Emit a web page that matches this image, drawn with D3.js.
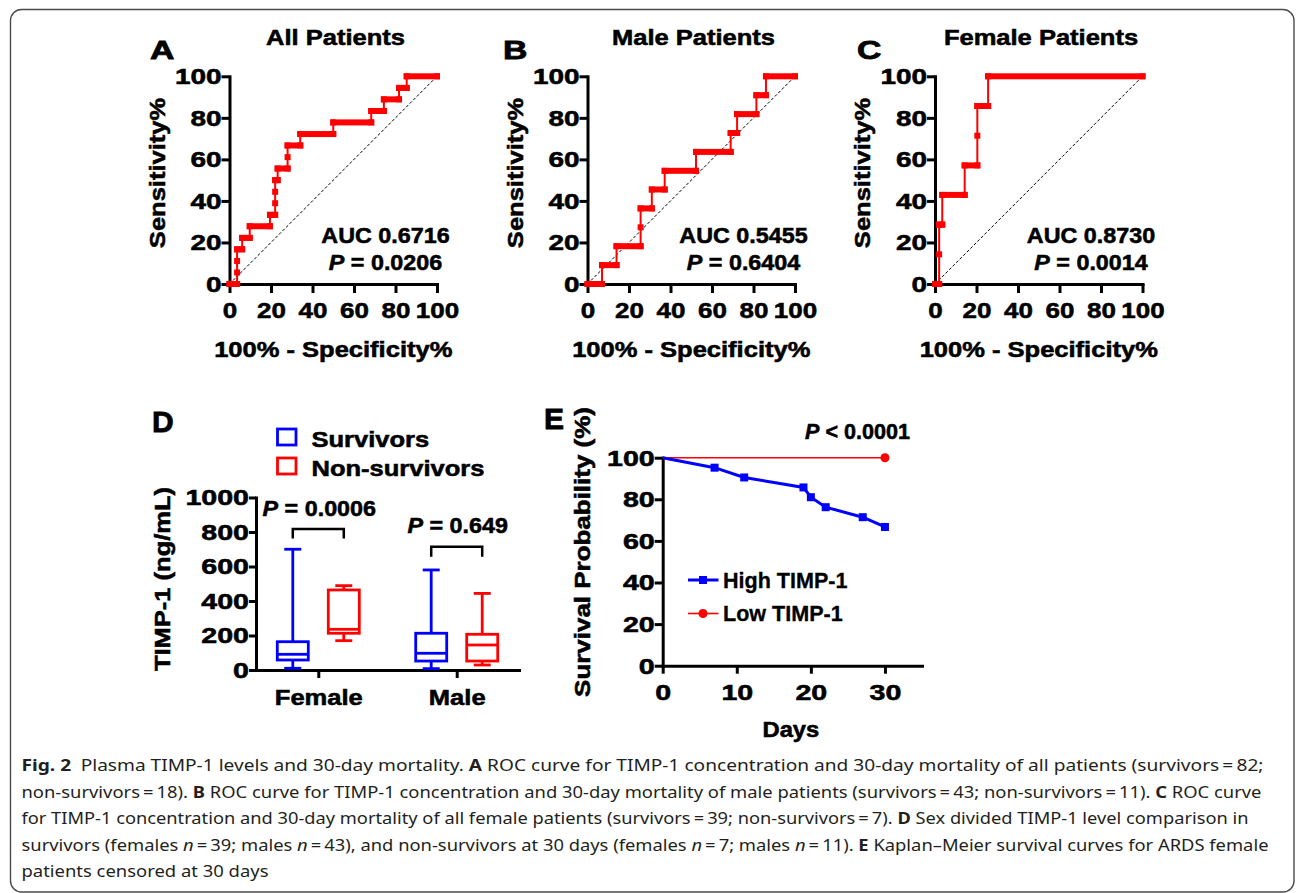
<!DOCTYPE html>
<html><head><meta charset="utf-8">
<script src="https://cdn.jsdelivr.net/npm/d3@7"></script>
<style>html,body{margin:0;padding:0;background:#fff;}svg{display:block;}</style>
</head><body>
<svg id="fig" width="1296" height="893"></svg>
<script>
// ================= DATA =================
const rocTitles = ["All Patients", "Male Patients", "Female Patients"];
const rocLetters = ["A", "B", "C"];
const rocAUC = ["0.6716", "0.5455", "0.8730"];
const rocP = ["0.0206", "0.6404", "0.0014"];
const rocTicks = [0, 20, 40, 60, 80, 100];
// points: [100% - Specificity%, Sensitivity%]
const rocAll = [[0,0],[3.66,0],[3.66,5.56],[3.66,11.1],[3.66,16.7],[6.1,16.7],[6.1,22.2],[9.76,22.2],[9.76,27.8],[19.5,27.8],[19.5,33.3],[22,33.3],[22,38.9],[22,44.4],[22,50],[23.2,50],[23.2,55.6],[28,55.6],[28,61.1],[28,66.7],[34.1,66.7],[34.1,72.2],[50,72.2],[50,77.8],[68.3,77.8],[68.3,83.3],[74.4,83.3],[74.4,88.9],[81.7,88.9],[81.7,94.4],[85.4,94.4],[85.4,100],[100,100]];
const rocMale = [[0,0],[7,0],[7,9.09],[14,9.09],[14,18.2],[25.6,18.2],[25.6,27.3],[25.6,36.4],[31,36.4],[31,45.5],[37.2,45.5],[37.2,54.5],[52.3,54.5],[52.3,63.6],[69,63.6],[69,72.7],[72.1,72.7],[72.1,81.8],[81.4,81.8],[81.4,90.9],[86,90.9],[86,100],[100,100]];
const rocFemale = [[0,0],[2,0],[2,14.3],[2,28.6],[3.5,28.6],[3.5,42.9],[14.3,42.9],[14.3,57.1],[20.4,57.1],[20.4,71.4],[20.4,85.7],[25.6,85.7],[25.6,100],[100,100]];

const boxGroups = ["Female", "Male"];
const boxSeries = ["Survivors", "Non-survivors"];
// [min, Q1, median, Q3, max] in ng/mL
const survivorsBox = [[10,58,91,164,700],[8,52,97,213,580]];
const nonSurvivorsBox = [[170,213,236,464,489],[29,52,145,207,444]];
const boxP = ["0.0006", "0.649"];
const boxTicks = [0, 200, 400, 600, 800, 1000];

const kmSeries = ["High TIMP-1", "Low TIMP-1"];
const highDays = [0, 7, 11, 19, 20, 22, 27, 30];
const highSurv = [100, 95.2, 90.5, 85.7, 81.0, 76.2, 71.4, 66.7];
const lowDays = [0, 30];
const lowSurv = [100, 100];
const kmP = "< 0.0001";
const kmTicksX = [0, 10, 20, 30];
const kmTicksY = [0, 20, 40, 60, 80, 100];

// caption: [text, style] (b = bold, i = italic)
const captionLines = [
  [["Fig. 2","b"],["\u2002Plasma TIMP-1 levels and 30-day mortality. "],["A","b"],[" ROC curve for TIMP-1 concentration and 30-day mortality of all patients (survivors\u2009=\u200982;"]],
  [["non-survivors\u2009=\u200918). "],["B","b"],[" ROC curve for TIMP-1 concentration and 30-day mortality of male patients (survivors\u2009=\u200943; non-survivors\u2009=\u200911). "],["C","b"],[" ROC curve"]],
  [["for TIMP-1 concentration and 30-day mortality of all female patients (survivors\u2009=\u200939; non-survivors\u2009=\u20097). "],["D","b"],[" Sex divided TIMP-1 level comparison in"]],
  [["survivors (females "],["n","i"],["\u2009=\u200939; males "],["n","i"],["\u2009=\u200943), and non-survivors at 30 days (females "],["n","i"],["\u2009=\u20097; males "],["n","i"],["\u2009=\u200911). "],["E","b"],[" Kaplan\u2013Meier survival curves for ARDS female"]],
  [["patients censored at 30 days"]]
];

// ================= DRAWING =================
const FONT = "'Liberation Sans', Arial, Helvetica, sans-serif";
const RED = "#ff0000", BLUE = "#0000ff";
const THICK = 0.55; // extra stroke to mimic the heavy bold of the original
const svg = d3.select("#fig");

svg.append("rect").attr("x", 10.5).attr("y", 9.5).attr("width", 1283.5).attr("height", 882.5)
  .attr("rx", 11).attr("fill", "none").attr("stroke", "#4a4a4a").attr("stroke-width", 1.4);

function label(g, x, y, parts, o = {}) {
  const size = o.size || 22, sx = o.sx || 1.16, rot = o.rot || 0;
  const t = g.append("text")
    .attr("transform", `translate(${x},${y}) rotate(${rot}) scale(${sx},1)`)
    .attr("text-anchor", o.anchor || "middle")
    .attr("font-family", FONT).attr("font-size", size)
    .attr("font-weight", o.weight || "bold").attr("fill", "#000")
    .attr("stroke", "#000").attr("stroke-width", o.thick === undefined ? THICK : o.thick);
  (typeof parts === "string" ? [[parts]] : parts).forEach(p => {
    const s = t.append("tspan").text(p[0]);
    if (p[1]) s.attr("font-style", "italic");
  });
  return t;
}

function styleAxis(g) {
  g.select(".domain").attr("stroke", "#000").attr("stroke-width", 3).attr("stroke-linecap", "square");
  g.selectAll(".tick line").attr("stroke", "#000").attr("stroke-width", 3);
  g.selectAll(".tick text").attr("font-family", FONT).attr("font-size", 22)
    .attr("font-weight", "bold").attr("fill", "#000").attr("stroke", "#000").attr("stroke-width", THICK);
}
function drawLeft(g, xPos, scale, ticks, tsize, sx) {
  const a = g.append("g").attr("transform", `translate(${xPos},0)`)
    .call(d3.axisLeft(scale).tickValues(ticks).tickSize(tsize).tickSizeOuter(0).tickPadding(0).tickFormat(d3.format("d")));
  styleAxis(a);
  a.selectAll(".tick text").attr("x", -tsize / sx).attr("dy", "0.34em").attr("transform", `scale(${sx},1)`);
  return a;
}
function drawBottom(g, yPos, scale, ticks, tsize, sx, base, fmt) {
  const ax = d3.axisBottom(scale).tickValues(ticks).tickSize(tsize).tickSizeOuter(0);
  if (fmt) ax.tickFormat(fmt);
  const a = g.append("g").attr("transform", `translate(0,${yPos})`).call(ax);
  styleAxis(a);
  a.selectAll(".tick text").attr("y", base).attr("dy", 0).attr("transform", `scale(${sx},1)`);
  return a;
}

// ---------- ROC panels ----------
const rocData = [rocAll, rocMale, rocFemale];
const rocX0 = [229.5, 587.5, 935];
const rocLetterX = [150, 503, 857];
rocData.forEach((data, i) => {
  const g = svg.append("g");
  const x = d3.scaleLinear().domain([0, 100]).range([rocX0[i], rocX0[i] + 207.5]);
  const y = d3.scaleLinear().domain([0, 100]).range([284, 76.3]);
  drawLeft(g, x(0), y, rocTicks, 8, 1.27);
  drawBottom(g, y(0), x, rocTicks, 9, 1.18, 34, d3.format("d"));
  g.append("line").attr("x1", x(0)).attr("y1", y(0)).attr("x2", x(100)).attr("y2", y(100))
    .attr("stroke", "#000").attr("stroke-width", 1).attr("stroke-dasharray", "3,2");
  g.append("path").datum(data).attr("fill", "none").attr("stroke", RED).attr("stroke-width", 2)
    .attr("d", d3.line().x(d => x(d[0])).y(d => y(d[1])));
  const runs = d3.pairs(data).filter(([a, b]) => a[1] === b[1]);
  g.selectAll(null).data(runs).join("rect")
    .attr("x", ([a]) => x(a[0]) - 3).attr("y", ([a]) => y(a[1]) - 3)
    .attr("width", ([a, b]) => x(b[0]) - x(a[0]) + 6).attr("height", 6).attr("fill", RED);
  g.selectAll(null).data(data).join("rect")
    .attr("x", d => x(d[0]) - 3).attr("y", d => y(d[1]) - 3).attr("width", 6).attr("height", 6).attr("fill", RED);
  label(g, rocLetterX[i], 59, rocLetters[i], { size: 26, sx: 1.3, anchor: "start", thick: 0.8 });
  label(g, x(0) + 106, 45, rocTitles[i]);
  label(g, x(0) - 65, 173, "Sensitivity%", { rot: -90 });
  label(g, x(50), 357, "100% - Specificity%");
  label(g, x(0) + 156, 243, "AUC " + rocAUC[i], { sx: 1.06 });
  label(g, x(0) + 156, 270, [["P", true], [" = " + rocP[i]]], { sx: 1.06 });
});

// ---------- Box plot (D) ----------
{
  const g = svg.append("g");
  const xb = d3.scalePoint().domain(boxGroups).range([256, 519]).padding(0.45);
  const yb = d3.scaleLinear().domain([0, 1000]).range([670, 497.5]);
  drawLeft(g, 256, yb, boxTicks, 7, 1.3);
  drawBottom(g, 670, xb, boxGroups, 8, 1.16, 35);
  label(g, 152, 432, "D", { size: 30, sx: 1.0, anchor: "start", thick: 0.8 });
  label(g, 170, 579, "TIMP-1 (ng/mL)", { rot: -90 });
  const off = 25.5, bw = 31, cw = 17;
  [survivorsBox, nonSurvivorsBox].forEach((arr, si) => {
    const col = si ? RED : BLUE;
    arr.forEach((s, gi) => {
      const cx = xb(boxGroups[gi]) + (si ? off : -off);
      const bg = g.append("g").attr("stroke", col).attr("stroke-width", 2.8).attr("fill", "none");
      bg.append("line").attr("x1", cx).attr("x2", cx).attr("y1", yb(s[0])).attr("y2", yb(s[1]));
      bg.append("line").attr("x1", cx).attr("x2", cx).attr("y1", yb(s[3])).attr("y2", yb(s[4]));
      bg.append("line").attr("x1", cx - cw / 2).attr("x2", cx + cw / 2).attr("y1", yb(s[0])).attr("y2", yb(s[0]));
      bg.append("line").attr("x1", cx - cw / 2).attr("x2", cx + cw / 2).attr("y1", yb(s[4])).attr("y2", yb(s[4]));
      bg.append("rect").attr("x", cx - bw / 2).attr("width", bw).attr("y", yb(s[3])).attr("height", yb(s[1]) - yb(s[3]));
      bg.append("line").attr("x1", cx - bw / 2).attr("x2", cx + bw / 2).attr("y1", yb(s[2])).attr("y2", yb(s[2]));
    });
  });
  const brTop = [817, 715], brBot = [763, 657], pY = [894, 792];
  boxGroups.forEach((grp, gi) => {
    const c = xb(grp);
    g.append("path").attr("d", `M${c - off},${yb(brBot[gi])}V${yb(brTop[gi])}H${c + off}V${yb(brBot[gi])}`)
      .attr("fill", "none").attr("stroke", "#000").attr("stroke-width", 2.5);
    label(g, c + 1, yb(pY[gi]), [["P", true], [" = " + boxP[gi]]], { sx: 1.06 });
  });
  // legend
  boxSeries.forEach((s, si) => {
    const ly = 437 + si * 29;
    g.append("rect").attr("x", 277.5).attr("y", ly - 8).attr("width", 18.5).attr("height", 16)
      .attr("fill", "none").attr("stroke", si ? RED : BLUE).attr("stroke-width", 2.8);
    label(g, 311.5, ly + 9.5, s, { anchor: "start" });
  });
}

// ---------- Kaplan-Meier (E) ----------
{
  const g = svg.append("g");
  const xk = d3.scaleLinear().domain([0, 35]).range([662.7, 922]);
  const yk = d3.scaleLinear().domain([0, 100]).range([665.7, 457.7]);
  drawLeft(g, 662.7, yk, kmTicksY, 8, 1.3);
  drawBottom(g, 665.7, xk, kmTicksX, 8, 1.3, 34.3, d3.format("d"));
  label(g, 544, 429, "E", { size: 30, sx: 1.0, anchor: "start", thick: 0.8 });
  label(g, 590, 552, "Survival Probability (%)", { rot: -90, sx: 1.18 });
  label(g, xk(17.3), 737, "Days", { sx: 1.08 });
  label(g, 857.5, 438.5, [["P", true], [" " + kmP]], { sx: 0.98 });
  const high = highDays.map((d, k) => [d, highSurv[k]]);
  const low = lowDays.map((d, k) => [d, lowSurv[k]]);
  const line = d3.line().x(d => xk(d[0])).y(d => yk(d[1]));
  g.append("path").datum(low).attr("d", line).attr("fill", "none").attr("stroke", RED).attr("stroke-width", 1.6);
  g.append("path").datum(high).attr("d", line).attr("fill", "none").attr("stroke", BLUE).attr("stroke-width", 3);
  g.selectAll(null).data(high.slice(1)).join("rect")
    .attr("x", d => xk(d[0]) - 4).attr("y", d => yk(d[1]) - 4).attr("width", 8).attr("height", 8).attr("fill", BLUE);
  g.append("circle").attr("cx", xk(low[1][0])).attr("cy", yk(low[1][1])).attr("r", 4.5).attr("fill", RED);
  // legend
  kmSeries.forEach((s, si) => {
    const ly = 580 + si * 33.5, col = si ? RED : BLUE;
    g.append("line").attr("x1", 688).attr("x2", 718.5).attr("y1", ly).attr("y2", ly)
      .attr("stroke", col).attr("stroke-width", si ? 1.6 : 3);
    if (si) g.append("circle").attr("cx", 703).attr("cy", ly).attr("r", 4.5).attr("fill", col);
    else g.append("rect").attr("x", 699).attr("y", ly - 4).attr("width", 8).attr("height", 8).attr("fill", col);
    label(g, 723, ly + 7.5, s, { anchor: "start", sx: 0.98, thick: 0.3 });
  });
}

// ---------- Caption ----------
{
  const widths = [1242, 1240, 1227, 1247, 247];
  captionLines.forEach((parts, li) => {
    const t = svg.append("text").attr("x", 21.5).attr("y", 771 + li * 26.6)
      .attr("font-family", "'Noto Sans', 'Open Sans', sans-serif").attr("font-size", 15.5)
      .attr("fill", "#231f20")
      .attr("textLength", widths[li]).attr("lengthAdjust", "spacingAndGlyphs");
    parts.forEach(p => {
      const s = t.append("tspan").text(p[0]);
      if (p[1] === "b") s.attr("font-weight", "bold");
      if (p[1] === "i") s.attr("font-style", "italic");
    });
  });
}
</script>
</body></html>
